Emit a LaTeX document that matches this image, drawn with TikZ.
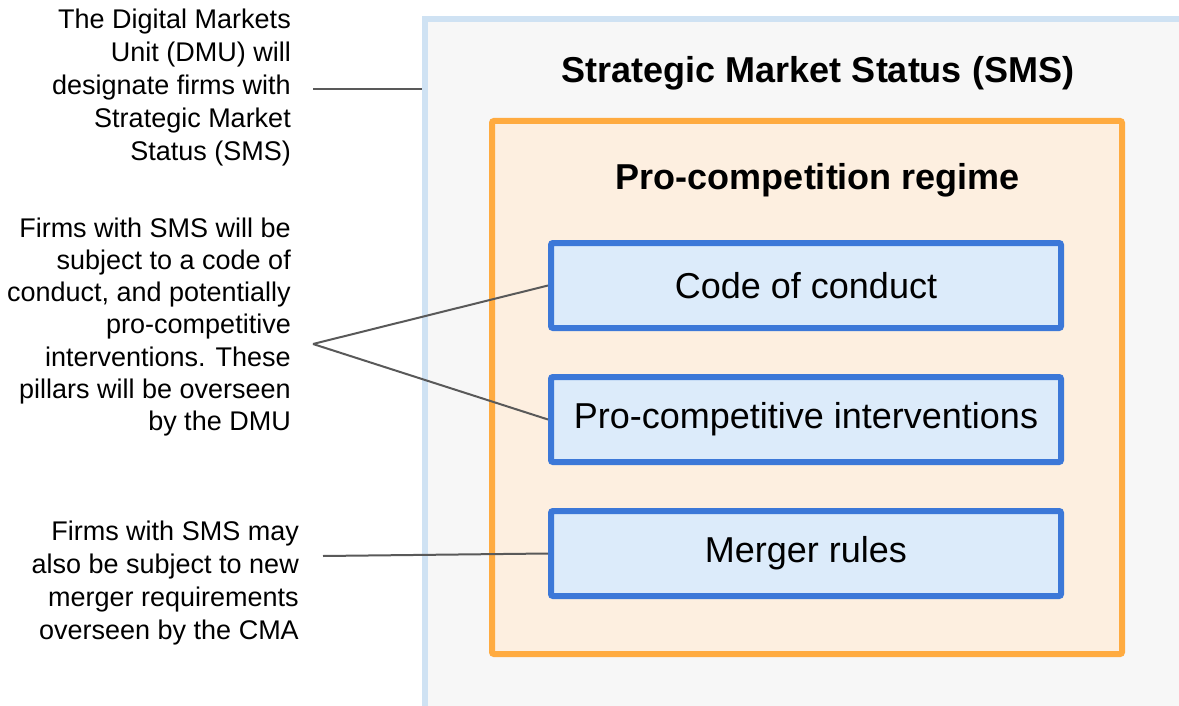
\documentclass[tikz,border=0pt]{standalone}
\usepackage{fontspec}
\setmainfont{Liberation Sans}

\definecolor{smsline}{HTML}{CFE2F3}
\definecolor{smsfill}{HTML}{F7F7F7}
\definecolor{regline}{HTML}{FFAB40}
\definecolor{regfill}{HTML}{FDEFE0}
\definecolor{pilline}{HTML}{3C78D8}
\definecolor{pilfill}{HTML}{DCEBFA}
\definecolor{note}{HTML}{595959}

\begin{document}
\begin{tikzpicture}[x=1pt,y=-1pt]

      \useasboundingbox (0,0) rectangle (1179,706);
      \clip (0,0) rectangle (1179,706);

      % status and regime frames
      \node[draw=smsline,fill=smsfill,line width=6pt,anchor=north west,
            minimum width=800,minimum height=720] (sms) at (422,16) {};
      \node[font=\fontsize{36}{42}\selectfont\bfseries] (smstitle) at (818,73)
            {Strategic Market Status (SMS)};
      \node[draw=regline,fill=regfill,line width=6pt,rounded corners=2pt,
            minimum width=630,minimum height=533] (regime) at (807,387.5) {};
      \node[font=\fontsize{36}{42}\selectfont\bfseries] (regtitle) at (818,180)
            {Pro-competition regime};

      % the three pillars
      \begin{scope}[every node/.style={draw=pilline,fill=pilfill,line width=6pt,
            rounded corners=2pt,minimum width=510,minimum height=85,
            font=\fontsize{36}{42}\selectfont}]
        \node (code)   at (806,285.5) {Code of conduct};
        \node (interv) at (806,419.5) {Pro-competitive interventions};
        \node (merger) at (806,553.5) {Merger rules};
      \end{scope}

      % notes on the left
      \begin{scope}[every node/.style={anchor=east,align=right,inner sep=0pt,
            font=\fontsize{27}{33}\selectfont}]
        \node (dmu)   at (291,88)  {The Digital Markets\\Unit (DMU) will\\designate firms with\\Strategic Market\\Status (SMS)};
        \node[font=\fontsize{27}{32.2}\selectfont] (pill) at (291,327)
              {Firms with SMS will be\\subject to a code of\\conduct, and potentially\\pro-competitive\\interventions. These\\pillars will be overseen\\by the DMU};
        \node (cma)   at (299,583) {Firms with SMS may\\also be subject to new\\merger requirements\\overseen by the CMA};
      \end{scope}

      \coordinate (d1) at (313,89);
      \coordinate (p1) at (313,344);
      \coordinate (c1) at (323,556);

      \begin{scope}[every edge/.style={draw=note,line width=2pt}]
        \path (d1) edge (d1 -| sms.west);
        \path (p1) edge (code.west);
        \path (p1) edge (interv.west);
        \path (c1) edge (merger.west);
      \end{scope}

    \end{tikzpicture}
\end{document}
